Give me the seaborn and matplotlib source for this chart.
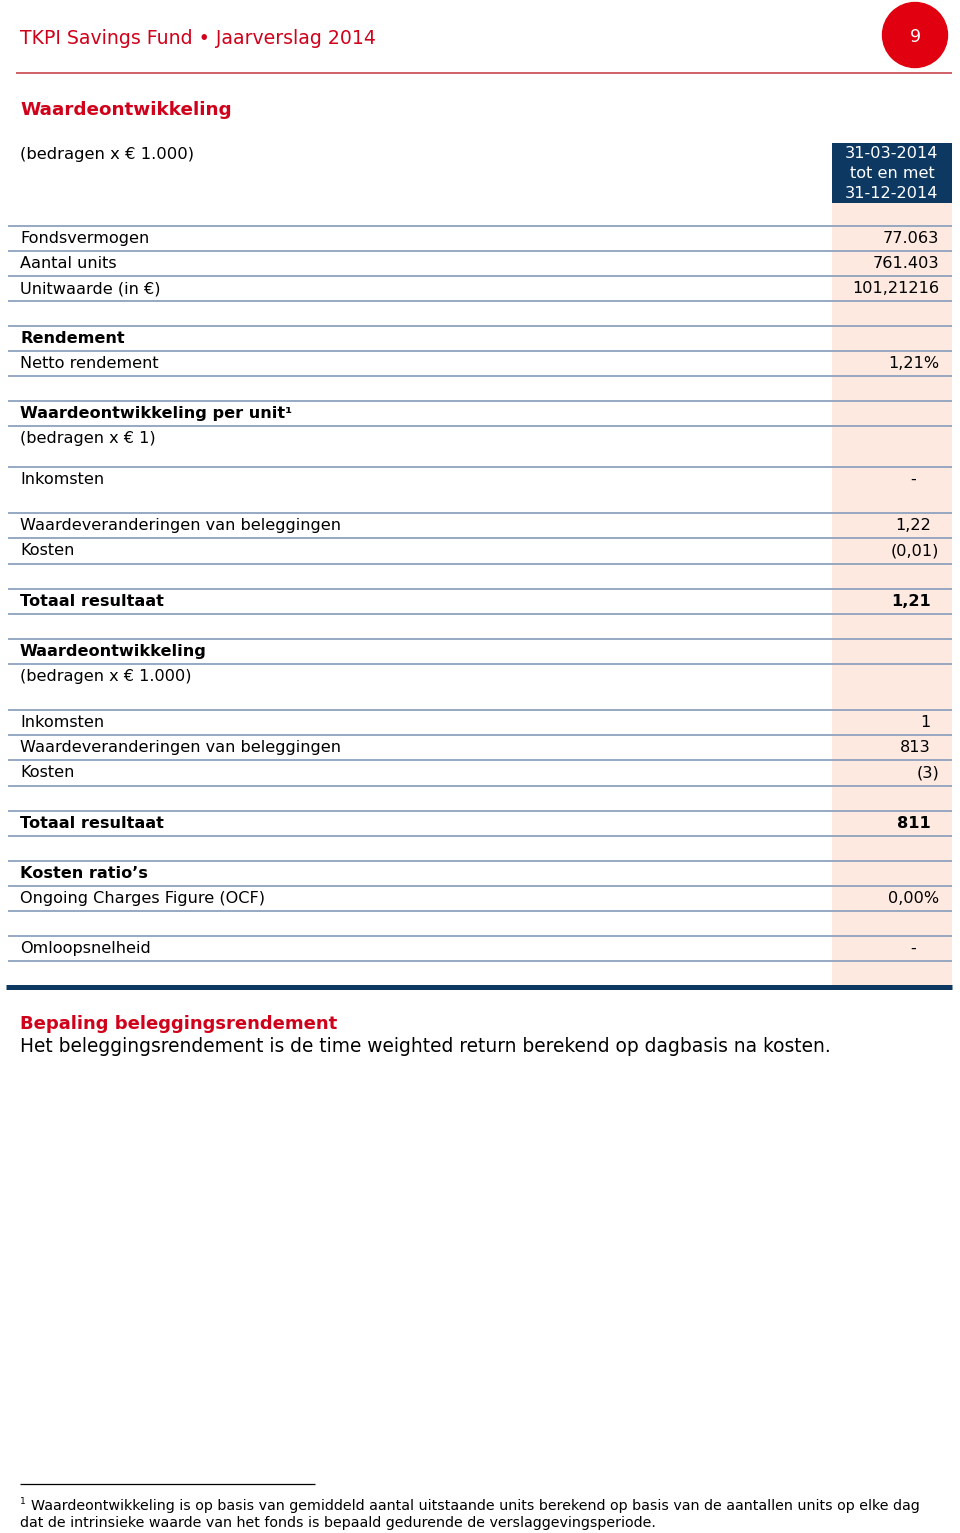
import numpy as np
import matplotlib.pyplot as plt
import seaborn as sns

# 表格内容
header_title = "TKPI Savings Fund \u2022 Jaarverslag 2014"
page_number = "9"
section_title = "Waardeontwikkeling"
unit_note = "(bedragen x \u20ac 1.000)"
period_lines = ["31-03-2014", "tot en met", "31-12-2014"]

row_labels = ["Fondsvermogen", "Aantal units", "Unitwaarde (in \u20ac)", "",
              "Rendement", "Netto rendement", "",
              "Waardeontwikkeling per unit\u00b9", "(bedragen x \u20ac 1)",
              "Inkomsten", "Waardeveranderingen van beleggingen", "Kosten", "",
              "Totaal resultaat", "",
              "Waardeontwikkeling", "(bedragen x \u20ac 1.000)",
              "Inkomsten", "Waardeveranderingen van beleggingen", "Kosten", "",
              "Totaal resultaat", "",
              "Kosten ratio\u2019s", "Ongoing Charges Figure (OCF)", "",
              "Omloopsnelheid", ""]
row_values = ["77.063", "761.403", "101,21216", "",
              "", "1,21%", "",
              "", "",
              "-", "1,22", "(0,01)", "",
              "1,21", "",
              "", "",
              "1", "813", "(3)", "",
              "811", "",
              "", "0,00%", "",
              "-", ""]
row_bold = [0, 0, 0, 0,
            1, 0, 0,
            1, 0,
            0, 0, 0, 0,
            1, 0,
            1, 0,
            0, 0, 0, 0,
            1, 0,
            1, 0, 0,
            0, 0]

# 行高(像素)
row_heights = [25, 25, 25, 25,
               25, 25, 25,
               25, 41,
               46, 25, 26, 25,
               25, 25,
               25, 46,
               25, 25, 26, 25,
               25, 25,
               25, 25, 25,
               25, 26]

footer_title = "Bepaling beleggingsrendement"
footer_text = "Het beleggingsrendement is de time weighted return berekend op dagbasis na kosten."
footnote_lines = ["Waardeontwikkeling is op basis van gemiddeld aantal uitstaande units berekend op basis van de aantallen units op elke dag",
                  "dat de intrinsieke waarde van het fonds is bepaald gedurende de verslaggevingsperiode."]

RED = '#d0021b'
NAVY = '#0c3862'
PEACH = '#fde9df'
GRID = '#8fa3be'

sns.set_theme(style='white')
plt.rcParams['font.family'] = ['DejaVu Sans']
plt.rcParams['text.color'] = 'black'

fig = plt.figure(figsize=(9.6, 15.33), dpi=100)
ax = fig.add_axes([0, 0, 1, 1])
ax.set_xlim(0, 960)
ax.set_ylim(1533, 0)
ax.axis('off')

# 页眉
ax.text(20, 38, header_title, color=RED, fontsize=13.6, va='center', ha='left')
ax.add_patch(plt.Circle((915, 35), 32.5, color='#e00010', zorder=3))
ax.text(915, 37, page_number, color='white', fontsize=12.5, va='center', ha='center', zorder=4)
ax.hlines(73, 16, 952, color='#c4363f', lw=1.1)

ax.text(20, 110, section_title, color=RED, fontsize=13.2, fontweight='bold', va='center')
ax.text(20, 154, unit_note, color='black', fontsize=11.8, va='center')

# 表头
ax.add_patch(plt.Rectangle((832, 143), 120, 60, color=NAVY, lw=0))
for i, s in enumerate(period_lines):
    ax.text(892, 154 + 20 * i, s, color='white', fontsize=11.6, va='center', ha='center')

# 数值列背景
top = 226
bounds = top + np.concatenate([[0], np.cumsum(row_heights)])
ax.add_patch(plt.Rectangle((832, 203), 120, bounds[-1] - 203, color=PEACH, lw=0, zorder=0))

ax.hlines(bounds[:-1], 8, 952, color=GRID, lw=1.3, zorder=2)
ax.hlines(bounds[-1], 6, 952, color=NAVY, lw=3.6, zorder=2)

for i, (lab, val, b) in enumerate(zip(row_labels, row_values, row_bold)):
    y = bounds[i] + 12.5
    w = 'bold' if b else 'normal'
    if lab:
        ax.text(20, y, lab, fontsize=11.6, fontweight=w, va='center', ha='left', color='black')
    if val:
        if val == '-':
            ax.text(913, y, val, fontsize=11.6, fontweight=w, va='center', ha='center', color='black')
        elif i < 3 or val.endswith(')') or val.endswith('%'):
            ax.text(939, y, val, fontsize=11.6, fontweight=w, va='center', ha='right', color='black')
        else:
            ax.text(931, y, val, fontsize=11.6, fontweight=w, va='center', ha='right', color='black')

# 页脚
ax.text(20, 1024, footer_title, color=RED, fontsize=13.0, fontweight='bold', va='center')
ax.text(20, 1047, footer_text, color='black', fontsize=13.4, va='center')

ax.hlines(1484, 20, 315, color='black', lw=0.9)
ax.text(20, 1501, "1", fontsize=6.5, va='center', color='black')
ax.text(31, 1506, footnote_lines[0], fontsize=10.3, va='center', color='black')
ax.text(20, 1523, footnote_lines[1], fontsize=10.3, va='center', color='black')

fig.savefig('out.png', dpi=100)
